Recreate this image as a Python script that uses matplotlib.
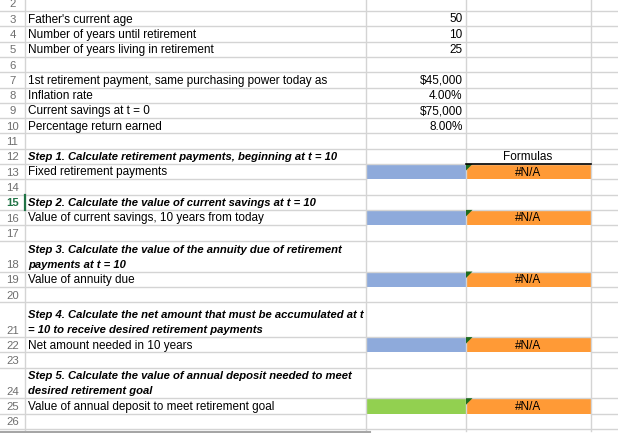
import matplotlib
matplotlib.use("Agg")
import matplotlib.pyplot as plt
from matplotlib.patches import Rectangle, Polygon

# ---- sheet contents ----
input_rows = [3, 4, 5, 7, 8, 9, 10]
input_labels = [
    "Father's current age",
    "Number of years until retirement",
    "Number of years living in retirement",
    "1st retirement payment, same purchasing power today as",
    "Inflation rate",
    "Current savings at t = 0",
    "Percentage return earned",
]
input_values = [50, 10, 25, 45000, 0.04, 75000, 0.08]
input_formats = ["int", "int", "int", "usd", "pct", "usd", "pct"]

step_rows = [12, 15, 18, 21, 24]
step_titles = [
    ["Step 1. Calculate retirement payments, beginning at t = 10"],
    ["Step 2. Calculate the value of current savings at t = 10"],
    ["Step 3. Calculate the value of the annuity due of retirement",
     "payments at t = 10"],
    ["Step 4. Calculate the net amount that must be accumulated at t",
     "= 10 to receive desired retirement payments"],
    ["Step 5. Calculate the value of annual deposit needed to meet",
     "desired retirement goal"],
]

result_rows = [13, 16, 19, 22, 25]
result_labels = [
    "Fixed retirement payments",
    "Value of current savings, 10 years from today",
    "Value of annuity due",
    "Net amount needed in 10 years",
    "Value of annual deposit to meet retirement goal",
]
result_kind = ["blue", "blue", "blue", "blue", "green"]
formula_header = "Formulas"
formula_value = "#N/A"

row_numbers = list(range(2, 27))
selected_row = 15

# ---- layout (pixels) ----
W, H = 618, 433
row_h = {r: 15.3 for r in row_numbers}
row_h[18] = 31.0
row_h[21] = 35.0
row_h[24] = 30.5
first_top = -4.3
col_edges = [0, 25, 366, 465.5, 590.5, 640]

tops = {}
y = first_top
for r in row_numbers:
    tops[r] = y
    y += row_h[r]
bottoms = {r: tops[r] + row_h[r] for r in row_numbers}

fill_colors = {"blue": "#8eaadb", "green": "#92d050", "orange": "#ff9a36"}
grid_color = "#d4d4d4"
FONT = "Liberation Sans"
FS = 8.5
FS_STEP = 8.1


def fmt(v, kind):
    if kind == "usd":
        return f"${v:,.0f}"
    if kind == "pct":
        return f"{v * 100:.2f}%"
    return f"{v:d}"


fig = plt.figure(figsize=(W / 100, H / 100), dpi=100)
ax = fig.add_axes([0, 0, 1, 1])
ax.set_xlim(0, W)
ax.set_ylim(H, 0)
ax.axis("off")

# filled cells
for r, kind in zip(result_rows, result_kind):
    t, b = tops[r], bottoms[r]
    ax.add_patch(Rectangle((col_edges[2], t), col_edges[3] - col_edges[2], b - t,
                           facecolor=fill_colors[kind], edgecolor="none", zorder=1))
    ax.add_patch(Rectangle((col_edges[3], t), col_edges[4] - col_edges[3], b - t,
                           facecolor=fill_colors["orange"], edgecolor="none", zorder=1))
    x0 = col_edges[3] + 0.5
    ax.add_patch(Polygon([(x0, t), (x0 + 6.5, t), (x0, t + 6.5)], closed=True,
                         facecolor="#1d6b1d", edgecolor="none", zorder=4))
    ax.text(col_edges[3] + (col_edges[4] - col_edges[3]) / 2, b - 3.8, formula_value,
            ha="center", va="baseline", fontsize=FS, family=FONT, zorder=5)

# gridlines
for r in row_numbers:
    b = bottoms[r]
    if r in result_rows:
        ax.plot([0, col_edges[2]], [b, b], color=grid_color, lw=1, zorder=2)
        ax.plot([col_edges[4], W], [b, b], color=grid_color, lw=1, zorder=2)
    else:
        ax.plot([0, W], [b, b], color=grid_color, lw=1, zorder=2)
for xe in col_edges[1:5]:
    ax.plot([xe, xe], [0, bottoms[26] + 2], color=grid_color, lw=1, zorder=2)

# black border under "Formulas"
ax.plot([col_edges[3], col_edges[4]], [bottoms[12], bottoms[12]], color="black", lw=1.2, zorder=4)
ax.text(col_edges[3] + (col_edges[4] - col_edges[3]) / 2, bottoms[12] - 3.8, formula_header,
        ha="center", va="baseline", fontsize=FS, family=FONT, zorder=5)

# row numbers
for r in row_numbers:
    sel = r == selected_row
    ax.text(12.5, bottoms[r] - 3.6, str(r), ha="center", va="baseline",
            fontsize=8.2, family=FONT,
            color="#217346" if sel else "#6e6e6e",
            fontweight="bold" if sel else "normal", zorder=5)
ax.plot([25.2, 25.2], [tops[selected_row], bottoms[selected_row]], color="#217346", lw=1.6, zorder=6)

# inputs: label in column B, value right-aligned in column C
for r, lab, v, k in zip(input_rows, input_labels, input_values, input_formats):
    ax.text(col_edges[1] + 3, bottoms[r] - 3.8, lab, ha="left", va="baseline",
            fontsize=FS, family=FONT, zorder=5)
    ax.text(col_edges[3] - 3, bottoms[r] - 3.8, fmt(v, k), ha="right", va="baseline",
            fontsize=FS, family=FONT, zorder=5)

# step titles
for r, lines in zip(step_rows, step_titles):
    n = len(lines)
    for i, line in enumerate(lines):
        yb = bottoms[r] - 3.8 - (n - 1 - i) * 15.0
        ax.text(col_edges[1] + 3, yb, line, ha="left", va="baseline", fontsize=FS_STEP,
                family=FONT, style="italic", fontweight="bold", zorder=5)

# result labels
for r, lab in zip(result_rows, result_labels):
    ax.text(col_edges[1] + 3, bottoms[r] - 3.8, lab, ha="left", va="baseline",
            fontsize=FS, family=FONT, zorder=5)

# bottom edge
ax.plot([0, 370], [431.5, 431.5], color="#a6a6a6", lw=1.5, zorder=6)

fig.savefig("out.png", dpi=100)
